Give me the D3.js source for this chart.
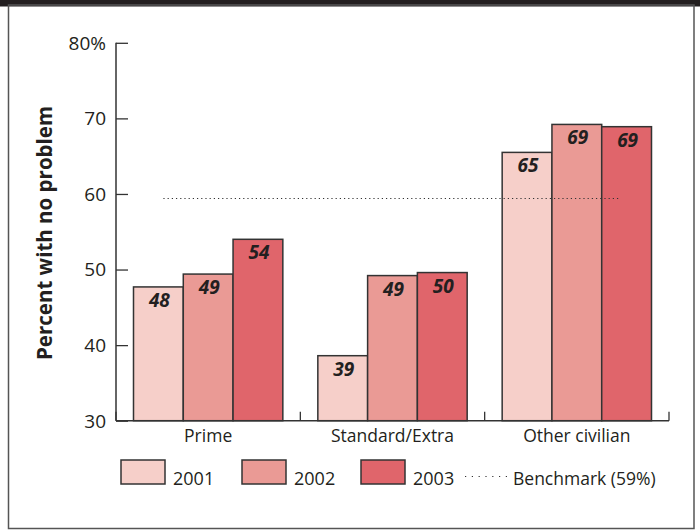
<!DOCTYPE html>
<html><head><meta charset="utf-8">
<script src="https://cdn.jsdelivr.net/npm/d3@7"></script>
<style>
html,body{margin:0;padding:0;background:#fff;}
svg text{font-family:"Open Sans","Noto Sans",sans-serif;fill:#231f20;}
</style></head>
<body>
<svg id="c" width="700" height="531"></svg>
<script>
const categories = ["Prime", "Standard/Extra", "Other civilian"];
const years = ["2001", "2002", "2003"];
const values2001 = [47.7, 38.6, 65.5];
const values2002 = [49.4, 49.2, 69.2];
const values2003 = [54.0, 49.6, 68.9];
const valueLabels2001 = ["48", "39", "65"];
const valueLabels2002 = ["49", "49", "69"];
const valueLabels2003 = ["54", "50", "69"];
const benchmark = 59.4;
const benchmarkLabel = "Benchmark (59%)";
const yTicks = [30, 40, 50, 60, 70, 80];
const yTickLabels = ["30", "40", "50", "60", "70", "80%"];
const yTitle = "Percent with no problem";

const colors = {"2001": "#f6cfc9", "2002": "#ea9a95", "2003": "#e0656b"};
const seriesValues = {"2001": values2001, "2002": values2002, "2003": values2003};
const seriesLabels = {"2001": valueLabels2001, "2002": valueLabels2002, "2003": valueLabels2003};

const svg = d3.select("#c");
const ink = "#333";

// frame
svg.append("rect").attr("x", 0).attr("y", 0).attr("width", 700).attr("height", 6.5).attr("fill", "#231f20");
svg.append("rect").attr("x", 8.5).attr("y", 5).attr("width", 685.5).attr("height", 523.5)
  .attr("fill", "none").attr("stroke", "#555").attr("stroke-width", 1.5);

const y = d3.scaleLinear().domain([30, 80]).range([420.7, 42.8]);
const x0 = d3.scaleBand().domain(categories).range([116, 669]).paddingInner(0).paddingOuter(0);
const bw = x0.bandwidth();
const x1 = d3.scaleBand().domain(years).range([17.5, bw - 17.5]).padding(0);

// y axis
const yAxis = d3.axisRight(y).tickValues(yTicks).tickSize(12).tickFormat(() => "");
const gy = svg.append("g").attr("transform", "translate(116,0)").call(yAxis);
gy.select(".domain").remove();
gy.selectAll(".tick line").attr("stroke", ink).attr("stroke-width", 1.3);
svg.append("line").attr("x1", 116).attr("x2", 116).attr("y1", y(80)).attr("y2", y(30))
  .attr("stroke", ink).attr("stroke-width", 1.5);
svg.selectAll(".ylab").data(yTicks).enter().append("text")
  .attr("x", 106).attr("y", d => y(d)).attr("dy", "0.36em")
  .attr("text-anchor", "end").attr("font-size", 19)
  .text((d, i) => yTickLabels[i]);

// y title
svg.append("text").attr("transform", "translate(52,233) rotate(-90)")
  .attr("text-anchor", "middle").attr("font-size", 20.5).attr("font-weight", "bold")
  .text(yTitle);

// bars
years.forEach(yr => {
  const g = svg.append("g");
  g.selectAll("rect").data(categories).enter().append("rect")
    .attr("x", c => x0(c) + x1(yr))
    .attr("y", (c, i) => y(seriesValues[yr][i]))
    .attr("width", x1.bandwidth())
    .attr("height", (c, i) => y(30) - y(seriesValues[yr][i]))
    .attr("fill", colors[yr]).attr("stroke", ink).attr("stroke-width", 1.5);
  g.selectAll("text").data(categories).enter().append("text")
    .attr("x", c => x0(c) + x1(yr) + x1.bandwidth() / 2 + 1)
    .attr("y", (c, i) => y(seriesValues[yr][i]) + 20)
    .attr("text-anchor", "middle").attr("font-size", 19)
    .attr("font-weight", "bold").attr("font-style", "italic")
    .text((c, i) => seriesLabels[yr][i]);
});

// x axis baseline and separators
svg.append("line").attr("x1", 116).attr("x2", 669).attr("y1", y(30)).attr("y2", y(30))
  .attr("stroke", ink).attr("stroke-width", 1.5);
const seps = categories.map(c => x0(c) + bw).concat([x0(categories[0])]);
svg.selectAll(".sep").data(seps).enter().append("line")
  .attr("x1", d => d).attr("x2", d => d).attr("y1", y(30) - 9).attr("y2", y(30))
  .attr("stroke", ink).attr("stroke-width", 1.3);
svg.selectAll(".xlab").data(categories).enter().append("text")
  .attr("x", c => x0(c) + bw / 2).attr("y", 442)
  .attr("text-anchor", "middle").attr("font-size", 17.5)
  .text(c => c);

// benchmark line
const bx1 = x0(categories[0]) + x1(years[0]) + x1.bandwidth() / 2 + 5;
const bx2 = x0(categories[2]) + x1(years[2]) + x1.bandwidth() / 2 - 6;
svg.append("line").attr("x1", bx1).attr("x2", bx2).attr("y1", y(benchmark)).attr("y2", y(benchmark))
  .attr("stroke", ink).attr("stroke-width", 1.1).attr("stroke-dasharray", "1.2,3");

// legend
const legX = [121, 242, 361];
years.forEach((yr, i) => {
  svg.append("rect").attr("x", legX[i]).attr("y", 460).attr("width", 44).attr("height", 24)
    .attr("fill", colors[yr]).attr("stroke", ink).attr("stroke-width", 1.5);
  svg.append("text").attr("x", legX[i] + 52).attr("y", 485).attr("font-size", 18).text(yr);
});
svg.append("line").attr("x1", 465).attr("x2", 507).attr("y1", 476.5).attr("y2", 476.5)
  .attr("stroke", ink).attr("stroke-width", 1.1).attr("stroke-dasharray", "1.2,5.6");
svg.append("text").attr("x", 513).attr("y", 485).attr("font-size", 17.5).text(benchmarkLabel);
</script>
</body></html>
